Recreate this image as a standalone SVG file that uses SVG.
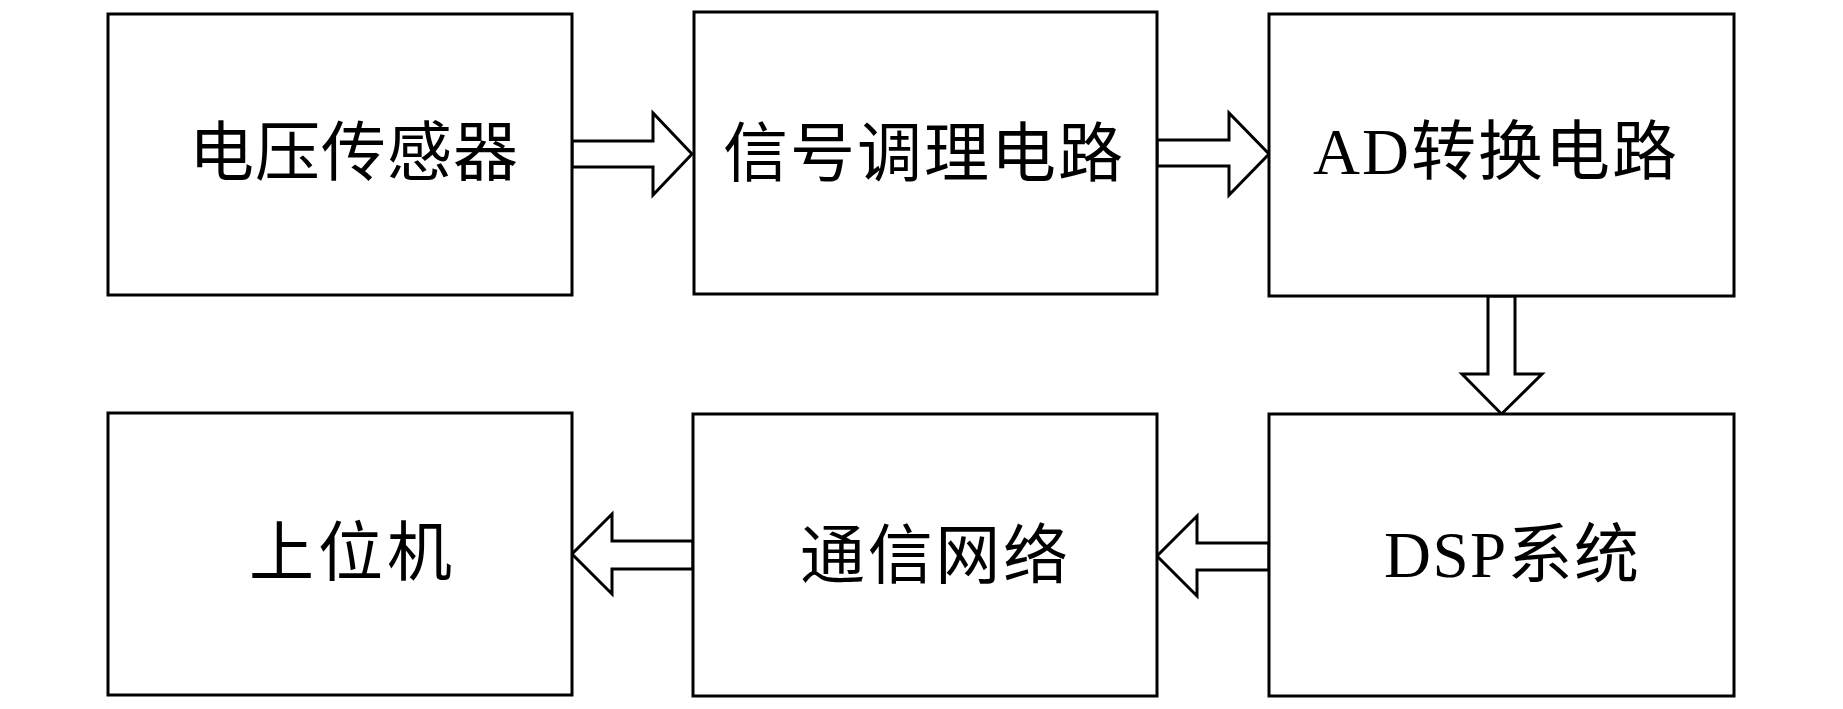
<svg xmlns="http://www.w3.org/2000/svg" width="1843" height="709" viewBox="0 0 1843 709">
<style>
.box{fill:#fff;stroke:#000;stroke-width:3}
.arr{fill:#fff;stroke:#000;stroke-width:3;stroke-linejoin:miter}
.lbl{font-family:"Liberation Serif","Noto Sans CJK SC",serif;font-size:65px;fill:#000}
</style>
<rect width="1843" height="709" fill="#fff"/>
<g id="connectors">
<polygon class="arr" points="572,141 653,141 653,113 692,154 653,195 653,167 572,167"/>
<polygon class="arr" points="1157,140 1229,140 1229,113 1269,154 1229,195 1229,166 1157,166"/>
<polygon class="arr" points="1488,296 1488,374 1462,374 1501.5,414 1542,374 1515,374 1515,296"/>
<polygon class="arr" points="1269,543 1197,543 1197,516 1157,556 1197,596 1197,570 1269,570"/>
<polygon class="arr" points="693,541 612,541 612,514 572,554 612,594 612,569 693,569"/>
</g>
<g id="node-voltage-sensor">
<rect class="box" x="108" y="14" width="464" height="281"/>
<text class="lbl" x="189" y="175" textLength="329" lengthAdjust="spacing">电压传感器</text>
</g>
<g id="node-signal-conditioning">
<rect class="box" x="694" y="12" width="463" height="282"/>
<text class="lbl" x="723" y="176" textLength="400" lengthAdjust="spacing">信号调理电路</text>
</g>
<g id="node-ad">
<rect class="box" x="1269" y="14" width="465" height="282"/>
<text class="lbl" x="1313" y="174" textLength="364" lengthAdjust="spacing">AD转换电路</text>
</g>
<g id="node-host">
<rect class="box" x="108" y="413" width="464" height="282"/>
<text class="lbl" x="249" y="575" textLength="203" lengthAdjust="spacing">上位机</text>
</g>
<g id="node-network">
<rect class="box" x="693" y="414" width="464" height="282"/>
<text class="lbl" x="800" y="578" textLength="268" lengthAdjust="spacing">通信网络</text>
</g>
<g id="node-dsp">
<rect class="box" x="1269" y="414" width="465" height="282"/>
<text class="lbl" x="1384" y="577" textLength="255" lengthAdjust="spacing">DSP系统</text>
</g>
</svg>
